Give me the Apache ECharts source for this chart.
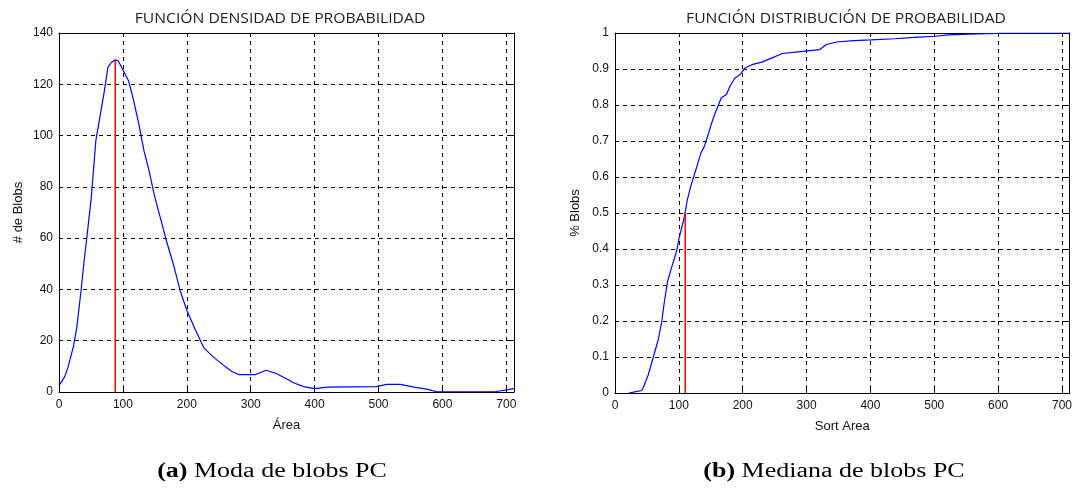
<!DOCTYPE html>
<html>
<head>
<meta charset="utf-8">
<script src="https://cdn.jsdelivr.net/npm/echarts@6/dist/echarts.min.js"></script>
<style>
  html, body { margin: 0; padding: 0; background: #fff; }
  #chart { width: 1075px; height: 491px; }
</style>
</head>
<body>
<div id="chart"></div>
<script>
// Kernel density of blob areas (left panel)
const densityArea  = [0, 2, 9, 14.5, 22.6, 28, 34.5, 38.8, 43, 47, 50.6, 57.6, 65.7, 71, 76.5, 81.9, 87.2, 92.6, 100.7, 108.8, 116.9, 125, 133, 141, 149, 157.2, 160, 168, 178.8, 189.5, 200, 211, 227, 243, 259.6, 270, 281, 308, 324, 340, 356.5, 367, 383, 399.6, 421, 496.5, 512.6, 534, 555.7, 577, 590.7, 682, 685, 712];
const densityCount = [2.5, 3.2, 6, 10, 17.8, 25.5, 39.6, 50, 59, 68, 76, 97.9, 109.6, 117.4, 126.6, 128.5, 129.5, 129.2, 125.3, 121.4, 113.5, 104.4, 94, 86.2, 77, 69.2, 66.7, 59, 50, 39.6, 31.9, 25.5, 17.1, 13.3, 10, 8.1, 6.8, 6.8, 8.5, 7.2, 5.1, 3.6, 2.1, 1.3, 1.9, 2.1, 3, 3, 1.9, 1, 0.1, 0.1, 0.8, 1.3];

// Empirical cumulative distribution of sorted areas (right panel)
const cdfArea = [21.8, 30.9, 41.5, 44, 52, 60, 68, 73.4, 77, 82.4, 87.8, 93.6, 97.3, 100, 104, 108, 109.6, 113.3, 118.6, 126.6, 134.6, 139.9, 145, 150.5, 155.9, 161, 166.5, 174.5, 180, 187.8, 195.7, 203.7, 214.4, 230, 246, 262, 283.5, 304.8, 320.7, 331, 347, 374, 400.5, 437.8, 469.7, 501.6, 522.9, 554.8, 597, 607.9, 712];
const cdfFrac = [0, 0.003, 0.007, 0.014, 0.05, 0.1, 0.15, 0.2, 0.25, 0.31, 0.344, 0.377, 0.4, 0.428, 0.456, 0.484, 0.5, 0.537, 0.574, 0.62, 0.667, 0.685, 0.713, 0.745, 0.773, 0.796, 0.82, 0.829, 0.852, 0.875, 0.884, 0.903, 0.912, 0.919, 0.931, 0.943, 0.947, 0.951, 0.954, 0.968, 0.975, 0.979, 0.981, 0.984, 0.988, 0.991, 0.995, 0.997, 0.999, 1, 1];

// Mode and median markers
const modeArea = 88, modeCount = 129.5;
const medianArea = 110, medianFrac = 0.5;

const xMax = 712;
const titles = ['FUNCIÓN DENSIDAD DE PROBABILIDAD', 'FUNCIÓN DISTRIBUCIÓN DE PROBABILIDAD'];
const yNames = ['# de Blobs', '% Blobs'];
const xNames = ['Área', 'Sort Area'];
const captions = [['(a)', 'Moda de blobs PC'], ['(b)', 'Mediana de blobs PC']];

const zip = (a, b) => a.map((v, i) => [v, b[i]]);

const sansFont = 'Liberation Sans, Arial, sans-serif';
const tickFont = { fontFamily: sansFont, fontSize: 12, color: '#111' };
const nameFont = { fontFamily: sansFont, fontSize: 13, color: '#111' };
const dashed = { show: true, lineStyle: { color: '#000', width: 1, type: [4, 4] } };
const boxLine = { show: true, onZero: false, lineStyle: { color: '#000', width: 1 } };
const innerTick = { show: true, inside: true, length: 4, lineStyle: { color: '#000' } };

function xAx(grid, name, pos, main) {
  return {
    type: 'value', gridIndex: grid, position: pos, min: 0, max: xMax, interval: 100,
    name: main ? name : '', nameLocation: 'middle', nameGap: 27, nameTextStyle: nameFont,
    axisLine: boxLine, axisTick: innerTick,
    axisLabel: Object.assign({ show: main, margin: 7, showMaxLabel: false }, tickFont),
    splitLine: main ? dashed : { show: false }
  };
}
function yAx(grid, name, pos, main, max, interval, gap) {
  return {
    type: 'value', gridIndex: grid, position: pos, min: 0, max: max, interval: interval,
    name: main ? name : '', nameLocation: 'middle', nameGap: gap, nameTextStyle: nameFont,
    axisLine: boxLine, axisTick: innerTick,
    axisLabel: Object.assign({ show: main, margin: 6 }, tickFont),
    splitLine: main ? dashed : { show: false }
  };
}

const titleX = [280, 846];
const captionX = [272, 834];

const chart = echarts.init(document.getElementById('chart'), null, { renderer: 'canvas' });
chart.setOption({
  animation: false,
  backgroundColor: '#fff',
  graphic: [
    ...titles.map((t, i) => ({
      type: 'text', x: titleX[i], y: 19, scaleX: 1.12,
      style: { text: t, align: 'center', verticalAlign: 'middle',
        font: '14px "Open Sans", sans-serif', fill: '#222' }
    })),
    ...captions.map((c, i) => ({
      type: 'text', x: captionX[i], y: 472, scaleX: 1.3,
      style: {
        align: 'center', verticalAlign: 'middle',
        rich: {
          b: { fontFamily: 'Liberation Serif, Times New Roman, serif', fontWeight: 'bold', fontSize: 20, fill: '#000' },
          n: { fontFamily: 'Liberation Serif, Times New Roman, serif', fontSize: 20, fill: '#000' }
        },
        text: '{b|' + c[0] + '}{n| ' + c[1] + '}'
      }
    }))
  ],
  grid: [
    { left: 59, top: 33, width: 455, height: 359, show: false },
    { left: 615, top: 33, width: 455, height: 360, show: false }
  ],
  xAxis: [
    xAx(0, xNames[0], 'bottom', true), xAx(0, '', 'top', false),
    xAx(1, xNames[1], 'bottom', true), xAx(1, '', 'top', false)
  ],
  yAxis: [
    yAx(0, yNames[0], 'left', true, 140, 20, 34), yAx(0, '', 'right', false, 140, 20, 34),
    yAx(1, yNames[1], 'left', true, 1, 0.1, 33), yAx(1, '', 'right', false, 1, 0.1, 33)
  ],
  series: [
    { type: 'line', xAxisIndex: 0, yAxisIndex: 0, data: zip(densityArea, densityCount),
      showSymbol: false, lineStyle: { color: '#0000ff', width: 1.2 }, z: 3 },
    { type: 'line', xAxisIndex: 0, yAxisIndex: 0, data: [[modeArea, 0], [modeArea, modeCount]],
      showSymbol: false, lineStyle: { color: '#ff0000', width: 1.5 }, z: 4 },
    { type: 'line', xAxisIndex: 2, yAxisIndex: 2, data: zip(cdfArea, cdfFrac),
      showSymbol: false, lineStyle: { color: '#0000ff', width: 1.2 }, z: 3 },
    { type: 'line', xAxisIndex: 2, yAxisIndex: 2, data: [[medianArea, 0], [medianArea, medianFrac]],
      showSymbol: false, lineStyle: { color: '#ff0000', width: 1.5 }, z: 4 }
  ]
});
</script>
</body>
</html>
